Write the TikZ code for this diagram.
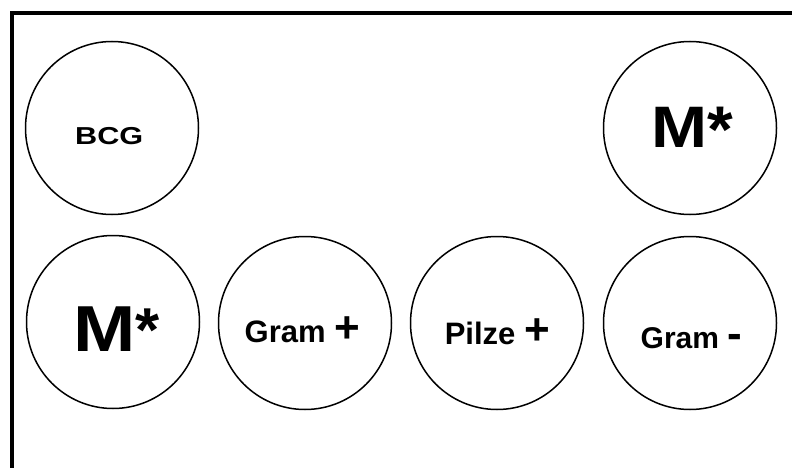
\documentclass[tikz,border=0pt]{standalone}
\usepackage{fontspec}
\setmainfont{Liberation Sans}
\begin{document}
\begin{tikzpicture}[x=1pt,y=-1pt,
  ring/.style={draw=black, line width=1.5pt, circle, minimum size=173pt, inner sep=0pt},
  txt/.style={anchor=base west, inner sep=0pt, font=\bfseries}]
\useasboundingbox (0,0) rectangle (792,468);
\clip (0,0) rectangle (792,468);
\fill[white] (0,0) rectangle (792,468);
% frame
\draw[line width=4pt] (12,480) -- (12,13) -- (800,13);
% circles
\node[ring] (bcg) at (112,128) {};
\node[ring] (mtr) at (690,128) {};
\node[ring] (mbl) at (113,322) {};
\node[ring] (gp) at (305,323) {};
\node[ring] (pp) at (497,323) {};
\node[ring] (gm) at (690,323) {};
% texts
\node[txt] (bcgT) at (75,144.5) {\scalebox{1.25}[1]{\fontsize{24.5}{27}\selectfont BCG}};
\node[txt] (mtrT) at (651,147) {\scalebox{1.15}[1]{\fontsize{58.5}{60}\selectfont M}\raisebox{-5pt}{\fontsize{66}{68}\selectfont *}};
\node[txt] (mblT) at (73.5,351) {\scalebox{1.15}[1]{\fontsize{65}{68}\selectfont M}\fontsize{62}{64}\selectfont *};
\node[txt] (gpT) at (244.5,342) {\fontsize{31}{34}\selectfont Gram \fontsize{44}{46}\selectfont +};
\node[txt] (ppT) at (444.6,344) {\fontsize{31}{34}\selectfont Pilze \fontsize{44}{46}\selectfont +};
\node[txt] (gmT) at (640.5,348) {\fontsize{30}{34}\selectfont Gram \fontsize{44}{46}\selectfont -};
\end{tikzpicture}
\end{document}
